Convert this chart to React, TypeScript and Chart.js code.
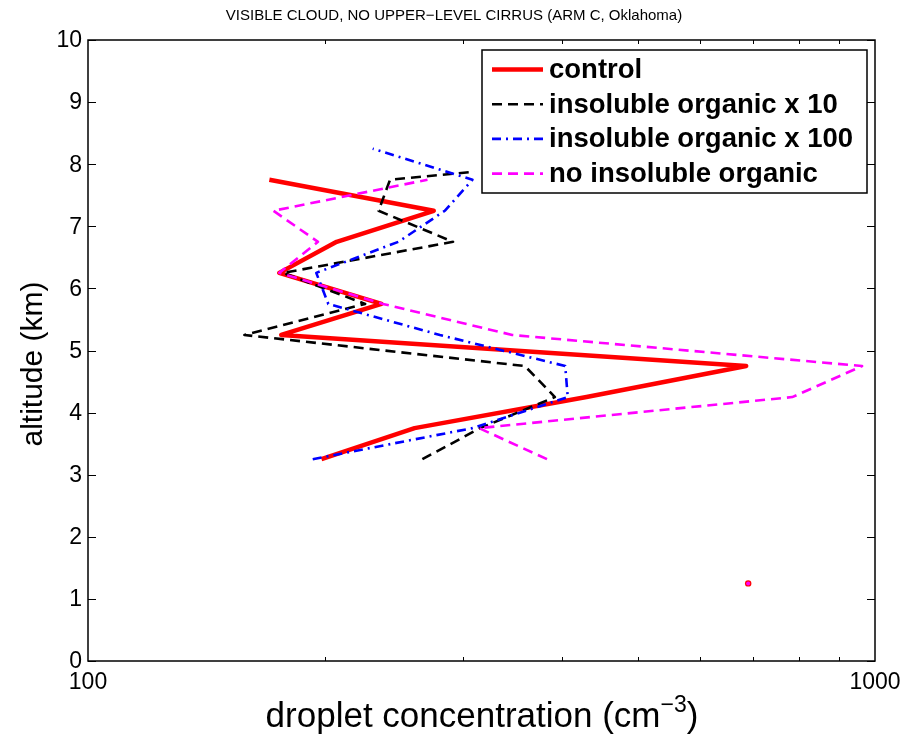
import React, { useEffect, useRef } from "react";
import { Chart, registerables } from "chart.js";

Chart.register(...registerables);

const TITLE = "VISIBLE CLOUD, NO UPPER\u2212LEVEL CIRRUS (ARM C, Oklahoma)";
const X_TITLE = "droplet concentration (cm";
const X_TITLE_SUP = "\u22123";
const X_TITLE_END = ")";
const Y_TITLE = "altitude (km)";

const yTicks = [0, 1, 2, 3, 4, 5, 6, 7, 8, 9, 10];
const xMajorTicks = [100, 1000];
const xMinorTicks = [200, 300, 400, 500, 600, 700, 800, 900];

const seriesLabels = [
  "control",
  "insoluble organic x 10",
  "insoluble organic x 100",
  "no insoluble organic",
];

// altitude (km) and droplet concentration (cm^-3); null breaks the line
const controlAlt = [1.25, 2.25, 3.25, 3.75, 4.25, 4.75, 5.25, 5.75, 6.25, 6.75, 7.25, 7.75];
const controlConc = [690, null, 198, 260, 430, 686, 176, 236, 175, 207, 275, 170];

const x10Alt = [3.25, 3.75, 4.25, 4.75, 5.25, 5.75, 6.25, 6.75, 7.25, 7.75, 7.88];
const x10Conc = [266, 315, 392, 359, 158, 225, 177, 291, 234, 242, 310];

const x100Alt = [3.25, 3.75, 4.25, 4.75, 5.25, 5.75, 6.25, 6.75, 7.25, 7.75, 8.25];
const x100Conc = [193, 308, 407, 404, 280, 202, 195, 248, 284, 308, 230];

const noOrgAlt = [1.25, 2.25, 3.25, 3.75, 4.25, 4.75, 5.25, 5.75, 6.25, 6.75, 7.25, 7.75];
const noOrgConc = [690, null, 383, 314, 785, 963, 346, 237, 175, 196, 172, 270];

const FONT = '"Liberation Sans", Arial, Helvetica, sans-serif';

function toPoints(alt: number[], conc: (number | null)[]) {
  return alt.map((a, i) => ({ x: conc[i], y: a }));
}

function isolatedRadius(r: number) {
  return (ctx: any) => {
    const d = ctx.dataset.data;
    const i = ctx.dataIndex;
    const prev = d[i - 1];
    const next = d[i + 1];
    const pGap = !prev || prev.x == null;
    const nGap = !next || next.x == null;
    return pGap && nGap ? r : 0;
  };
}

const styles = [
  { color: "#ff0000", width: 4.5, dash: [] as number[] },
  { color: "#000000", width: 2.6, dash: [10, 6] },
  { color: "#0000ff", width: 2.6, dash: [9, 5, 2, 5] },
  { color: "#ff00ff", width: 2.6, dash: [10, 6] },
];

const decorPlugin = {
  id: "decor",
  afterDraw(chart: any) {
    const ctx = chart.ctx as CanvasRenderingContext2D;
    const { left, right, top, bottom } = chart.chartArea;
    const xs = chart.scales.x;
    const ys = chart.scales.y;
    ctx.save();
    // axes box
    ctx.strokeStyle = "#000";
    ctx.lineWidth = 1.5;
    ctx.setLineDash([]);
    ctx.strokeRect(left, top, right - left, bottom - top);
    // ticks (inward)
    ctx.lineWidth = 1;
    ctx.beginPath();
    for (const t of yTicks) {
      const y = Math.round(ys.getPixelForValue(t)) + 0.5;
      ctx.moveTo(left, y);
      ctx.lineTo(left + 8, y);
      ctx.moveTo(right, y);
      ctx.lineTo(right - 8, y);
    }
    for (const t of xMinorTicks) {
      const x = Math.round(xs.getPixelForValue(t)) + 0.5;
      ctx.moveTo(x, bottom);
      ctx.lineTo(x, bottom - 4);
      ctx.moveTo(x, top);
      ctx.lineTo(x, top + 4);
    }
    ctx.stroke();
    // tick labels
    ctx.fillStyle = "#000";
    ctx.font = `23px ${FONT}`;
    ctx.textAlign = "right";
    ctx.textBaseline = "middle";
    for (const t of yTicks) {
      ctx.fillText(String(t), left - 6, ys.getPixelForValue(t) + 1);
    }
    ctx.textAlign = "center";
    ctx.textBaseline = "alphabetic";
    for (const t of xMajorTicks) {
      ctx.fillText(String(t), xs.getPixelForValue(t), 689);
    }
    // title
    ctx.font = `15px ${FONT}`;
    ctx.textAlign = "center";
    ctx.fillText(TITLE, 454, 20);
    // y title
    ctx.save();
    ctx.translate(34, 364);
    ctx.rotate(-Math.PI / 2);
    ctx.font = `30px ${FONT}`;
    ctx.textAlign = "center";
    ctx.textBaseline = "middle";
    ctx.fillText(Y_TITLE, 0, 0);
    ctx.restore();
    // x title with superscript
    const big = `35px ${FONT}`;
    const small = `23px ${FONT}`;
    ctx.font = big;
    const w1 = ctx.measureText(X_TITLE).width;
    const w3 = ctx.measureText(X_TITLE_END).width;
    ctx.font = small;
    const w2 = ctx.measureText(X_TITLE_SUP).width;
    const total = w1 + w2 + w3;
    const x0 = 482 - total / 2;
    const base = 727;
    ctx.textAlign = "left";
    ctx.font = big;
    ctx.fillText(X_TITLE, x0, base);
    ctx.font = small;
    ctx.fillText(X_TITLE_SUP, x0 + w1, base - 15);
    ctx.font = big;
    ctx.fillText(X_TITLE_END, x0 + w1 + w2, base);
    // legend
    const bx = 482, by = 50, bw = 385, bh = 143;
    ctx.fillStyle = "#fff";
    ctx.fillRect(bx, by, bw, bh);
    ctx.strokeStyle = "#000";
    ctx.lineWidth = 1.5;
    ctx.strokeRect(bx, by, bw, bh);
    ctx.font = `bold 27.5px ${FONT}`;
    ctx.textBaseline = "middle";
    ctx.textAlign = "left";
    seriesLabels.forEach((lab, i) => {
      const cy = 69.5 + i * 34.7;
      const st = styles[i];
      ctx.strokeStyle = st.color;
      ctx.lineWidth = st.width;
      ctx.setLineDash(st.dash);
      ctx.beginPath();
      ctx.moveTo(492, cy);
      ctx.lineTo(543, cy);
      ctx.stroke();
      ctx.setLineDash([]);
      ctx.fillStyle = "#000";
      ctx.fillText(lab, 549, cy + 1);
    });
    ctx.restore();
  },
};

export default function App() {
  const ref = useRef<HTMLCanvasElement | null>(null);
  useEffect(() => {
    if (!ref.current) return;
    const all = [
      toPoints(controlAlt, controlConc),
      toPoints(x10Alt, x10Conc),
      toPoints(x100Alt, x100Conc),
      toPoints(noOrgAlt, noOrgConc),
    ];
    const orders = [4, 3, 2, 1];
    const radii = [3.2, 0, 0, 2];
    const chart = new Chart(ref.current, {
      type: "line",
      data: {
        datasets: all.map((d, i) => ({
          label: seriesLabels[i],
          data: d as any,
          borderColor: styles[i].color,
          backgroundColor: styles[i].color,
          borderWidth: styles[i].width,
          borderDash: styles[i].dash,
          borderJoinStyle: "round" as const,
          borderCapStyle: "butt" as const,
          pointRadius: isolatedRadius(radii[i]),
          pointBorderWidth: 0,
          pointBackgroundColor: styles[i].color,
          fill: false,
          tension: 0,
          spanGaps: false,
          order: orders[i],
        })),
      },
      options: {
        responsive: false,
        animation: false,
        events: [],
        layout: { padding: { left: 88, top: 40, right: 29, bottom: 81 } },
        plugins: {
          legend: { display: false },
          title: { display: false },
          tooltip: { enabled: false },
        },
        scales: {
          x: { type: "logarithmic", min: 100, max: 1000, display: false },
          y: { type: "linear", min: 0, max: 10, display: false },
        },
      },
      plugins: [decorPlugin],
    });
    return () => chart.destroy();
  }, []);
  return (
    <div style={{ position: "absolute", left: 0, top: 0, width: 904, height: 742, background: "#fff" }}>
      <canvas ref={ref} width={904} height={742} style={{ width: 904, height: 742, display: "block" }} />
    </div>
  );
}
